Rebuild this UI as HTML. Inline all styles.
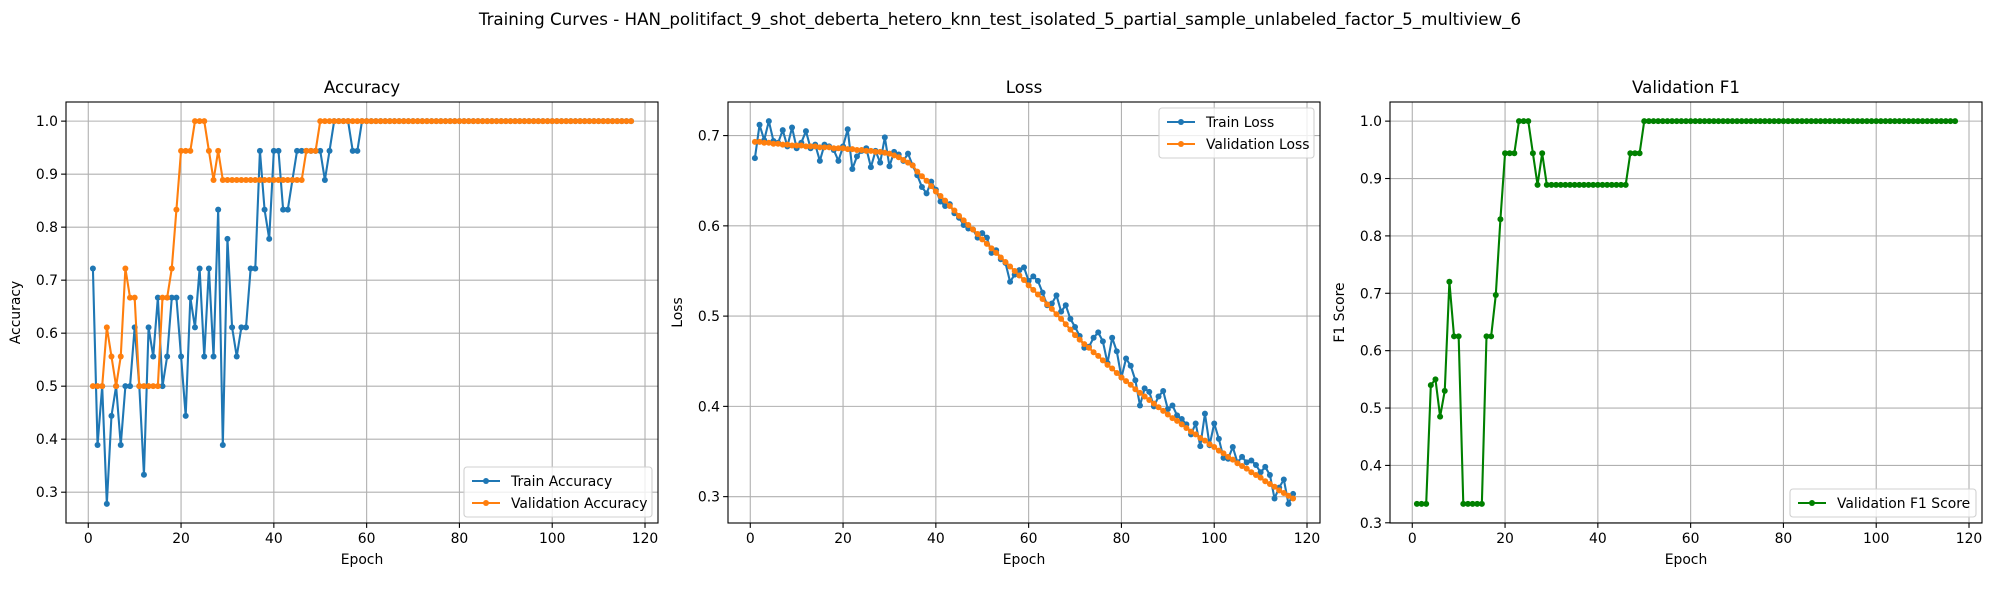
<!DOCTYPE html>
<html><head><meta charset="utf-8"><style>
body{margin:0;background:#fff;}
svg{display:block;font-family:"DejaVu Sans","Liberation Sans",sans-serif;}
</style></head><body>
<svg id="fig" width="2000" height="600" viewBox="0 0 2000 600" xmlns="http://www.w3.org/2000/svg">
<rect width="2000" height="600" fill="#fff"/>
<text x="1000" y="25" text-anchor="middle" font-size="16.7">Training Curves - HAN_politifact_9_shot_deberta_hetero_knn_test_isolated_5_partial_sample_unlabeled_factor_5_multiview_6</text>
</svg>
<script>
const trainAcc=[0.722,0.389,0.5,0.278,0.444,0.5,0.389,0.5,0.5,0.611,0.5,0.333,0.611,0.556,0.667,0.5,0.556,0.667,0.667,0.556,0.444,0.667,0.611,0.722,0.556,0.722,0.556,0.833,0.389,0.778,0.611,0.556,0.611,0.611,0.722,0.722,0.944,0.833,0.778,0.944,0.944,0.833,0.833,0.889,0.944,0.944,0.944,0.944,0.944,0.944,0.889,0.944,1,1,1,1,0.944,0.944,1,1,1,1,1,1,1,1,1,1,1,1,1,1,1,1,1,1,1,1,1,1,1,1,1,1,1,1,1,1,1,1,1,1,1,1,1,1,1,1,1,1,1,1,1,1,1,1,1,1,1,1,1,1,1,1,1,1,1];
const valAcc=[0.5,0.5,0.5,0.611,0.556,0.5,0.556,0.722,0.667,0.667,0.5,0.5,0.5,0.5,0.5,0.667,0.667,0.722,0.833,0.944,0.944,0.944,1,1,1,0.944,0.889,0.944,0.889,0.889,0.889,0.889,0.889,0.889,0.889,0.889,0.889,0.889,0.889,0.889,0.889,0.889,0.889,0.889,0.889,0.889,0.944,0.944,0.944,1,1,1,1,1,1,1,1,1,1,1,1,1,1,1,1,1,1,1,1,1,1,1,1,1,1,1,1,1,1,1,1,1,1,1,1,1,1,1,1,1,1,1,1,1,1,1,1,1,1,1,1,1,1,1,1,1,1,1,1,1,1,1,1,1,1,1,1];
const trainLoss=[0.675,0.712,0.695,0.716,0.694,0.692,0.706,0.688,0.709,0.686,0.692,0.705,0.686,0.690,0.672,0.690,0.688,0.684,0.672,0.688,0.707,0.663,0.677,0.683,0.686,0.665,0.683,0.670,0.698,0.666,0.682,0.679,0.672,0.680,0.667,0.656,0.643,0.636,0.649,0.640,0.627,0.622,0.624,0.614,0.609,0.601,0.597,0.596,0.587,0.592,0.587,0.570,0.573,0.563,0.559,0.538,0.546,0.551,0.554,0.539,0.544,0.539,0.526,0.512,0.514,0.523,0.505,0.512,0.497,0.488,0.478,0.465,0.466,0.476,0.482,0.472,0.448,0.476,0.461,0.432,0.453,0.445,0.429,0.401,0.420,0.416,0.400,0.411,0.417,0.397,0.401,0.390,0.386,0.380,0.369,0.381,0.356,0.392,0.357,0.381,0.364,0.343,0.342,0.355,0.338,0.344,0.338,0.340,0.335,0.327,0.333,0.324,0.298,0.310,0.319,0.292,0.303];
const valLoss=[0.693,0.693,0.692,0.692,0.691,0.691,0.690,0.690,0.689,0.689,0.689,0.688,0.688,0.688,0.687,0.687,0.687,0.686,0.686,0.686,0.685,0.685,0.684,0.684,0.683,0.683,0.682,0.682,0.681,0.680,0.678,0.676,0.673,0.670,0.667,0.660,0.655,0.650,0.644,0.638,0.633,0.628,0.622,0.617,0.611,0.606,0.601,0.596,0.591,0.585,0.580,0.575,0.570,0.565,0.560,0.555,0.550,0.545,0.540,0.534,0.529,0.524,0.519,0.513,0.508,0.502,0.497,0.491,0.485,0.479,0.474,0.469,0.465,0.460,0.456,0.451,0.446,0.442,0.437,0.432,0.428,0.424,0.419,0.415,0.411,0.407,0.403,0.399,0.395,0.391,0.387,0.384,0.380,0.376,0.372,0.369,0.365,0.362,0.358,0.355,0.351,0.348,0.344,0.341,0.337,0.334,0.331,0.327,0.324,0.321,0.317,0.314,0.311,0.307,0.304,0.301,0.298];
const valF1=[0.333,0.333,0.333,0.54,0.55,0.485,0.53,0.72,0.625,0.625,0.333,0.333,0.333,0.333,0.333,0.625,0.625,0.697,0.829,0.944,0.944,0.944,1,1,1,0.944,0.889,0.944,0.889,0.889,0.889,0.889,0.889,0.889,0.889,0.889,0.889,0.889,0.889,0.889,0.889,0.889,0.889,0.889,0.889,0.889,0.944,0.944,0.944,1,1,1,1,1,1,1,1,1,1,1,1,1,1,1,1,1,1,1,1,1,1,1,1,1,1,1,1,1,1,1,1,1,1,1,1,1,1,1,1,1,1,1,1,1,1,1,1,1,1,1,1,1,1,1,1,1,1,1,1,1,1,1,1,1,1,1,1];
const xTicks=[0,20,40,60,80,100,120];
const accTicks=[0.3,0.4,0.5,0.6,0.7,0.8,0.9,1.0];
const lossTicks=[0.3,0.4,0.5,0.6,0.7];
const f1Ticks=[0.3,0.4,0.5,0.6,0.7,0.8,0.9,1.0];

const NS='http://www.w3.org/2000/svg';
const svg=document.getElementById('fig');
function mk(tag,attrs,parent){const e=document.createElementNS(NS,tag);for(const k in attrs)e.setAttribute(k,attrs[k]);(parent||svg).appendChild(e);return e;}
function rangeOf(arrs){let lo=Infinity,hi=-Infinity;arrs.forEach(a=>a.forEach(v=>{lo=Math.min(lo,v);hi=Math.max(hi,v);}));const m=(hi-lo)*0.05;return [lo-m,hi+m];}

function panel(o){
  const L=o.left,R=o.left+592,T=102,B=523;
  const n=o.series[0].data.length;
  const xm=(n-1)*0.05, x0=1-xm, x1=n+xm;
  const [y0,y1]=rangeOf(o.series.map(s=>s.data));
  const X=v=>L+(v-x0)/(x1-x0)*(R-L);
  const Y=v=>B-(v-y0)/(y1-y0)*(B-T);
  const g=mk('g',{});
  
  
  xTicks.forEach(t=>{
    const l=mk('line',{x1:X(t),x2:X(t),y1:T,y2:B,stroke:'#b0b0b0','stroke-width':1.1},g);
    
    mk('line',{x1:X(t),x2:X(t),y1:B,y2:B+4.9,stroke:'#000','stroke-width':1.1},g);
    const tx=mk('text',{x:X(t),y:B+20,'text-anchor':'middle','font-size':13.9},g);
    
    tx.textContent=t;
  });
  o.ticks.forEach(t=>{
    const l=mk('line',{x1:L,x2:R,y1:Y(t),y2:Y(t),stroke:'#b0b0b0','stroke-width':1.1},g);
    
    mk('line',{x1:L-4.9,x2:L,y1:Y(t),y2:Y(t),stroke:'#000','stroke-width':1.1},g);
    const tx=mk('text',{x:L-8,y:Y(t)+5,'text-anchor':'end','font-size':13.9},g);
    
    tx.textContent=t.toFixed(1);
  });
  o.series.forEach(s=>{
    const sg=mk('g',{},g);
    
    
    const pts=s.data.map((v,i)=>X(i+1).toFixed(2)+','+Y(v).toFixed(2)).join(' ');
    mk('polyline',{points:pts,fill:'none',stroke:s.color,'stroke-width':2.1,'stroke-linejoin':'round'},sg);
    s.data.forEach((v,i)=>{
      const c=mk('circle',{cx:X(i+1),cy:Y(v),r:3,fill:s.color},sg);
      
      
    });
  });
  const fr=mk('rect',{x:L,y:T,width:R-L,height:B-T,fill:'none',stroke:'#000','stroke-width':1.1},g);
  
  const ti=mk('text',{x:(L+R)/2,y:T-9,'text-anchor':'middle','font-size':16.7},g);
  
  ti.textContent=o.title;
  const xl=mk('text',{x:(L+R)/2,y:564,'text-anchor':'middle','font-size':13.9},g);
  
  xl.textContent='Epoch';
  const yx=o.left-46;
  const yl=mk('text',{x:yx,y:(T+B)/2,'text-anchor':'middle','font-size':13.9,transform:`rotate(-90 ${yx} ${(T+B)/2})`},g);
  
  yl.textContent=o.ylabel;
  const lw=o.legendW, lh=o.series.length*22+6;
  const lx=R-lw-6;
  const ly=o.legendTop? T+6 : B-lh-6;
  const lg=mk('g',{},g);
  
  
  mk('rect',{x:lx,y:ly,width:lw,height:lh,rx:3,fill:'#fff','fill-opacity':0.8,stroke:'#d0d0d0','stroke-width':1.1},lg);
  o.series.forEach((s,i)=>{
    const cy=ly+14+i*22;
    const e=mk('g',{},lg);
    
    
    mk('line',{x1:lx+8,x2:lx+36,y1:cy,y2:cy,stroke:s.color,'stroke-width':2.1},e);
    mk('circle',{cx:lx+22,cy:cy,r:3,fill:s.color},e);
    const t=mk('text',{x:lx+47,y:cy+5,'font-size':13.9},e);
    t.textContent=s.label;
  });
}
panel({name:'accuracy',left:66,title:'Accuracy',ylabel:'Accuracy',ticks:accTicks,legendW:188,legendTop:false,
  series:[{id:'train-accuracy',data:trainAcc,color:'#1f77b4',label:'Train Accuracy'},{id:'validation-accuracy',data:valAcc,color:'#ff7f0e',label:'Validation Accuracy'}]});
panel({name:'loss',left:728,title:'Loss',ylabel:'Loss',ticks:lossTicks,legendW:155,legendTop:true,
  series:[{id:'train-loss',data:trainLoss,color:'#1f77b4',label:'Train Loss'},{id:'validation-loss',data:valLoss,color:'#ff7f0e',label:'Validation Loss'}]});
panel({name:'validation-f1',left:1390,title:'Validation F1',ylabel:'F1 Score',ticks:f1Ticks,legendW:186,legendTop:false,
  series:[{id:'validation-f1',data:valF1,color:'#008000',label:'Validation F1 Score'}]});
</script>
</body></html>
